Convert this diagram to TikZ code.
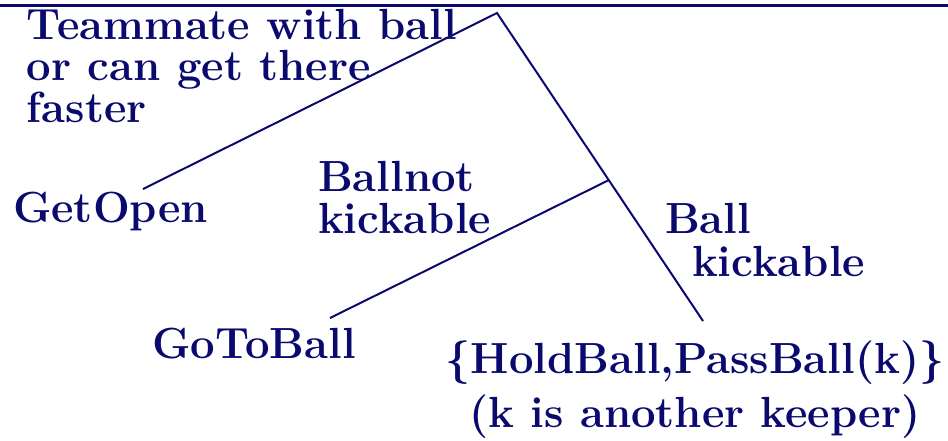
\documentclass[tikz,border=0pt]{standalone}
\definecolor{navyink}{RGB}{10,10,110}
\tikzset{
  lbl/.style={inner sep=0pt, outer sep=0pt, align=left, text=navyink,
    font=\fontsize{43.6}{41.5}\selectfont\bfseries},
  lblc/.style={inner sep=0pt, outer sep=0pt, align=center, text=navyink,
    font=\fontsize{43.6}{54}\selectfont\bfseries},
  branch/.style={draw=navyink, line width=2pt},
  rule/.style={draw=navyink, line width=3.8pt}
}
\begin{document}
\begin{tikzpicture}[x=1pt,y=-1pt]
\useasboundingbox (0,0) rectangle (948,440);
% top rule
\coordinate (rl) at (0,5.5);
\coordinate (rr) at (948,5.5);
\draw[rule] (rl) -- (rr);
% tree points
\coordinate (root) at (497,13);
\coordinate (go) at (143,189);
\coordinate (kick) at (703,321);
\coordinate (mid) at (609,180);
\coordinate (gtb) at (330,318);
\draw[branch] (go) -- (root) -- (kick);
\draw[branch] (gtb) -- (mid);
% labels (base anchor = baseline of last line)
\node[lbl, anchor=base west] (team) at (27,122) {Teammate with ball\\or can get there\\faster};
\node[lbl, anchor=base west] (getopen) at (13,222) {GetOpen};
\node[lbl, anchor=base west] (notkick) at (318,233) {Ballnot\\kickable};
\node[lbl, anchor=base west] (gotoball) at (152,358) {GoToBall};
\node[lbl, anchor=base west, font=\fontsize{43.6}{43}\selectfont\bfseries] (ballk) at (665,276) {Ball\\\hspace*{27pt}kickable};
\node[lblc, anchor=base] (hold) at (695,427) {\{HoldBall,PassBall(k)\}\\(k is another keeper)};
\end{tikzpicture}
\end{document}
